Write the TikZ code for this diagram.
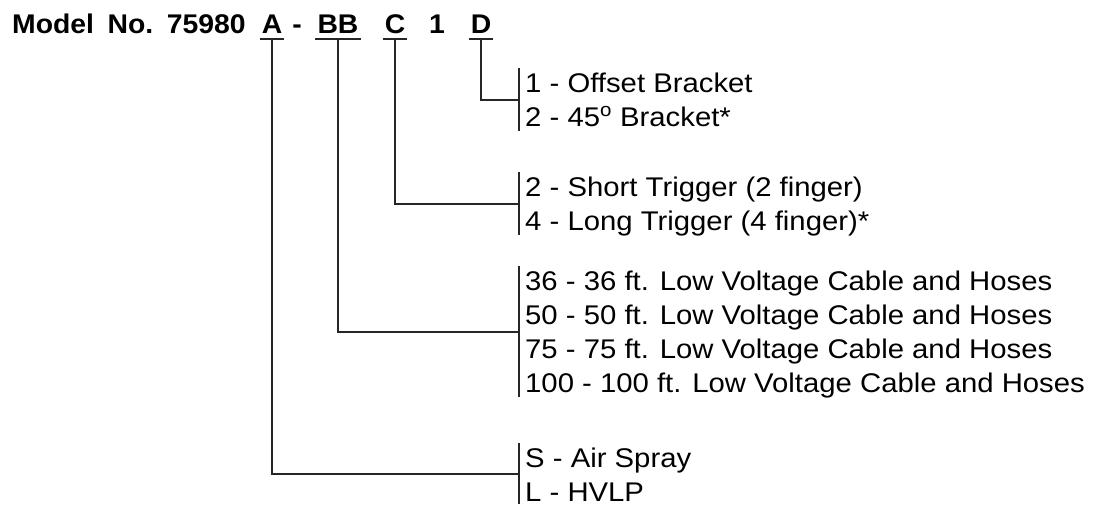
\documentclass[tikz,border=0pt]{standalone}
\usepackage{fontspec}
\setmainfont{Liberation Sans}
\newfontfamily\hdfont[FakeStretch=1.05]{Liberation Sans}
\newfontfamily\optfont[FakeStretch=1.085]{Liberation Sans}
\begin{document}
\begin{tikzpicture}[x=1pt, y=-1pt, line join=miter,
	code/.style={font=\hdfont\bfseries\fontsize{27}{32}\selectfont, anchor=base, inner xsep=2pt, inner ysep=5pt, text depth=0pt},
	opt/.style={font=\optfont\fontsize{27}{32}\selectfont, anchor=base west, inner xsep=6pt, inner ysep=0pt, text height=24pt, text depth=5pt},
	lead/.style={line width=2pt, draw=black!85}]
	\useasboundingbox (0,0) rectangle (1101,506);
	% ==================== MODEL NUMBER ====================
	\node[code, anchor=base west, inner xsep=0pt] (model) at (12,34) {Model\hspace{0.5em}No.\hspace{0.5em}75980};
	\node[code] (cA) at (272,34) {A};
	\node[code] (dash) at (297,34) {-};
	\node[code] (cBB) at (338,34) {BB};
	\node[code] (cC) at (395,34) {C};
	\node[code] (one) at (437,34) {1};
	\node[code] (cD) at (481,34) {D};
	\foreach \c in {cA, cBB, cC, cD}
	\draw[lead] (\c.south west) -- (\c.south east);
	% ==================== OPTION GROUPS ====================
	\path (519,92) coordinate (gD)
	(519,196) coordinate (gC)
	(519,290) coordinate (gBB)
	(519,467) coordinate (gA);
	\foreach \t [count=\i from 0] in {{1 - Offset Bracket}, {2 - 45\textsuperscript{o} Bracket*}}
	\path (gD) ++(0,34*\i) node[opt] (D\i) {\t};
	\foreach \t [count=\i from 0] in {{2 - Short Trigger (2 finger)}, {4 - Long Trigger (4 finger)*}}
	\path (gC) ++(0,34*\i) node[opt] (C\i) {\t};
	\foreach \t [count=\i from 0] in {{36 - 36 ft. Low Voltage Cable and Hoses}, {50 - 50 ft. Low Voltage Cable and Hoses}, {75 - 75 ft. Low Voltage Cable and Hoses}, {100 - 100 ft. Low Voltage Cable and Hoses}}
	\path (gBB) ++(0,34*\i) node[opt] (BB\i) {\t};
	\foreach \t [count=\i from 0] in {{S - Air Spray}, {L - HVLP}}
	\path (gA) ++(0,34*\i) node[opt, text depth=3pt] (A\i) {\t};
	% ==================== BRACKETS ====================
	\draw[lead] (D0.north west) -- (D1.south west) coordinate[midway] (bD);
	\draw[lead] (C0.north west) -- (C1.south west) coordinate[midway] (bC);
	\draw[lead] (BB0.north west) -- (BB3.south west) coordinate[midway] (bBB);
	\draw[lead] (A0.north west) -- (A1.south west) coordinate[midway] (bA);
	% ==================== LEADERS ====================
	\foreach \c/\b in {cD/bD, cC/bC, cBB/bBB, cA/bA}
	\draw[lead] (\c.south) |- (\b);
\end{tikzpicture}
\end{document}
